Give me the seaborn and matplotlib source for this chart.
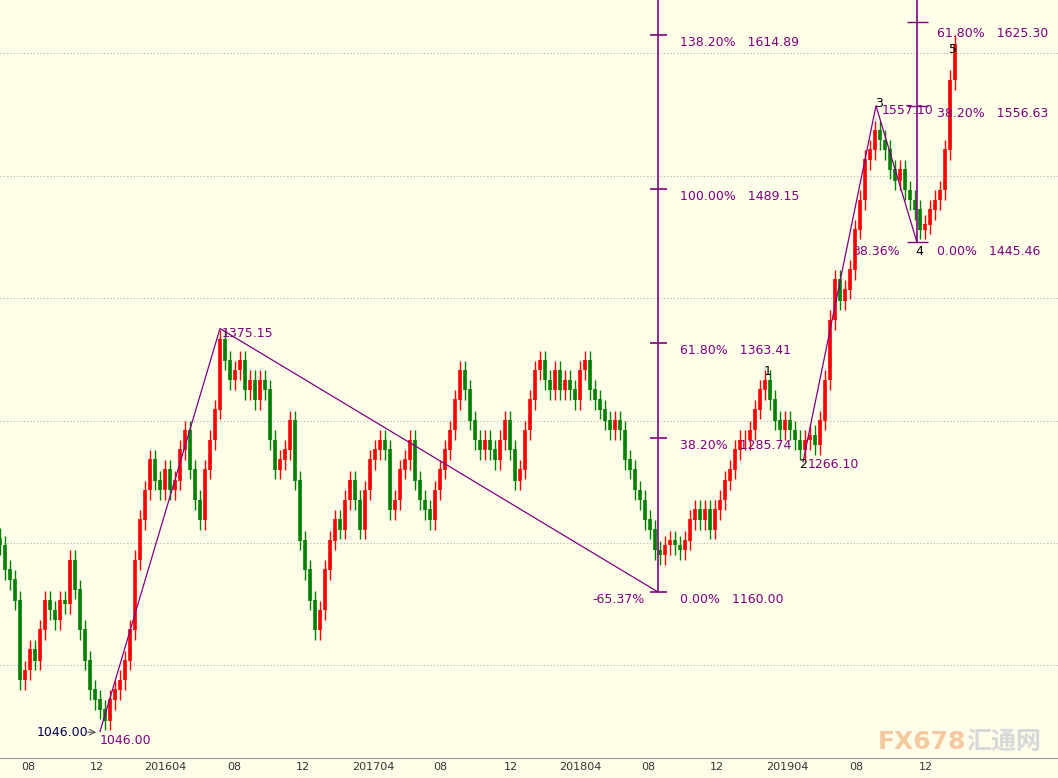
import matplotlib
matplotlib.use("Agg")
import matplotlib.pyplot as plt
import seaborn as sns
import numpy as np
import pandas as pd

closes = [1198,1178,1170,1153,1088,1096,1113,1104,1129,1153,1145,1137,1153,1150,1186,1162,1129,1104,1080,1072,
          1064,1055,1072,1080,1088,1104,1129,1186,1219,1243,1268,1251,1243,1260,1243,1251,1276,1292,1260,1235,
          1219,1260,1284,1309,1366,1349,1333,1341,1349,1325,1333,1317,1333,1325,1284,1260,1268,1276,1300,1251,
          1202,1178,1153,1129,1145,1178,1202,1219,1211,1235,1251,1235,1211,1243,1268,1276,1284,1276,1227,1235,
          1260,1268,1284,1251,1235,1227,1219,1243,1260,1276,1292,1317,1341,1325,1300,1284,1276,1284,1276,1268,
          1284,1300,1276,1251,1260,1292,1317,1341,1349,1333,1325,1341,1325,1333,1325,1317,1341,1349,1325,1317,
          1309,1300,1292,1300,1292,1268,1260,1243,1235,1219,1211,1194,1190,1198,1202,1198,1194,1202,1219,1227,
          1219,1227,1211,1227,1235,1251,1260,1276,1284,1284,1292,1309,1325,1333,1317,1300,1292,1300,1292,1284,
          1276,1284,1288,1280,1300,1333,1382,1415,1398,1407,1423,1456,1480,1513,1521,1537,1529,1521,1505,1496,
          1505,1488,1480,1472,1456,1460,1472,1480,1488,1521,1578,1607]
# Fibonacci / wave annotations (price levels)
fib1_levels = [1614.89, 1489.15, 1363.41, 1285.74, 1160.00]
fib1_labels = ["138.20%", "100.00%", "61.80%", "38.20%", "0.00%"]
fib2_levels = [1625.30, 1556.63, 1445.46]
fib2_labels = ["61.80%", "38.20%", "0.00%"]
xtick_labels = ["08","12","201604","08","12","201704","08","12","201804","08","12","201904","08","12"]
xtick_px = [28,97,165,234,303,373,440,511,580,648,717,787,856,926]

PX = 5.0  # pixels per bar
sns.set_style("white")
plt.rcParams['font.family'] = ['DejaVu Sans', 'Noto Sans CJK SC']
bg = '#fffee9'
fig = plt.figure(figsize=(10.58, 7.78), dpi=100, facecolor=bg)
ax = fig.add_axes([0, 20/778, 1, 758/778])
ax.set_facecolor(bg)

n = len(closes)
opens = [closes[0] + 6] + closes[:-1]
for i in range(n):
    o, c = opens[i], closes[i]
    col = '#ff0000' if c >= o else '#008000'
    hi = max(o, c) + 8
    lo = min(o, c) - 8
    ax.vlines(i, lo, hi, color=col, lw=1)
    ax.vlines(i, min(o, c), max(o, c) + 0.5, color=col, lw=2.6)

ax.set_xlim(0, 1058 / PX)
ymax = 1160 + 592 / 1.2245
ymin = 1160 - (758 - 592) / 1.2245
ax.set_ylim(ymin, ymax)
for g in [1100, 1200, 1300, 1400, 1500, 1600]:
    ax.axhline(g, color='#b0b0b0', ls=(0, (1, 2)), lw=0.8, zorder=0)

purple = '#800080'
def X(px):
    return px / PX

zig = pd.DataFrame({"x": [X(100), X(220), X(658)], "y": [1046.0, 1375.15, 1160.0]})
sns.lineplot(data=zig, x="x", y="y", ax=ax, color=purple, lw=0.9, sort=False)
zig2 = pd.DataFrame({"x": [X(803), X(876), X(917)], "y": [1266.10, 1557.10, 1445.46]})
sns.lineplot(data=zig2, x="x", y="y", ax=ax, color=purple, lw=0.9, sort=False)

# fib 1
ax.vlines(X(658), 1160, ymax, color=purple, lw=1.2)
for lv, lb in zip(fib1_levels, fib1_labels):
    ax.hlines(lv, X(650), X(667), color=purple, lw=1.2)
    ax.text(X(680), lv - 6, f"{lb}   {lv:.2f}", color=purple, fontsize=9, va='center')
ax.text(X(592), 1160 - 6, "-65.37%", color=purple, fontsize=9, va='center')
# fib 2
ax.vlines(X(917), 1445.46, ymax, color=purple, lw=1.2)
for lv, lb in zip(fib2_levels, fib2_labels):
    ax.hlines(lv, X(907), X(928), color=purple, lw=1.0)
ax.text(X(937), 1625.30 - 9, "61.80%   1625.30", color=purple, fontsize=9, va='center')
ax.text(X(937), 1556.63 - 6, "38.20%   1556.63", color=purple, fontsize=9, va='center')
ax.text(X(937), 1445.46 - 7, "0.00%   1445.46", color=purple, fontsize=9, va='center')
ax.text(X(852), 1445.46 - 7, "38.36%", color=purple, fontsize=9, va='center')

ax.text(X(222), 1371, "1375.15", color=purple, fontsize=9, va='center')
ax.text(X(100), 1039, "1046.00", color=purple, fontsize=9, va='center')
ax.text(X(37), 1045.5, "1046.00", color='#000050', fontsize=9, va='center')
ax.annotate("", xy=(X(99), 1045.5), xytext=(X(85), 1045.5),
            arrowprops=dict(arrowstyle='->', color='#555555', lw=0.8))
ax.text(X(882), 1553, "1557.10", color=purple, fontsize=9, va='center')
ax.text(X(808), 1264, "1266.10", color=purple, fontsize=9, va='center')
for lbl, px, pr in [("1", 768, 1340), ("2", 803, 1264), ("3", 879, 1559), ("4", 919, 1438), ("5", 953, 1603)]:
    ax.text(X(px), pr, lbl, color='black', fontsize=9, ha='center', va='center')

ax.set_xticks([X(p) for p in xtick_px])
ax.set_xticklabels(xtick_labels, fontsize=8, color='#333333')
ax.tick_params(axis='x', length=0, pad=3)
ax.set_yticks([])
for s in ['top', 'right', 'left']:
    ax.spines[s].set_visible(False)
ax.spines['bottom'].set_color('#999999')

fig.text(878/1058, 1 - 742/778, "FX678", color='#f5c9a0', fontsize=18, fontweight='bold', va='center')
fig.text(966/1058, 1 - 742/778, "汇通网", color='#d8d8d8', fontsize=18, fontweight='bold', va='center',
         family=['Noto Sans CJK SC', 'DejaVu Sans'])
ax.set_xlabel("")
ax.set_ylabel("")
fig.savefig("out.png", dpi=100, facecolor=bg)
